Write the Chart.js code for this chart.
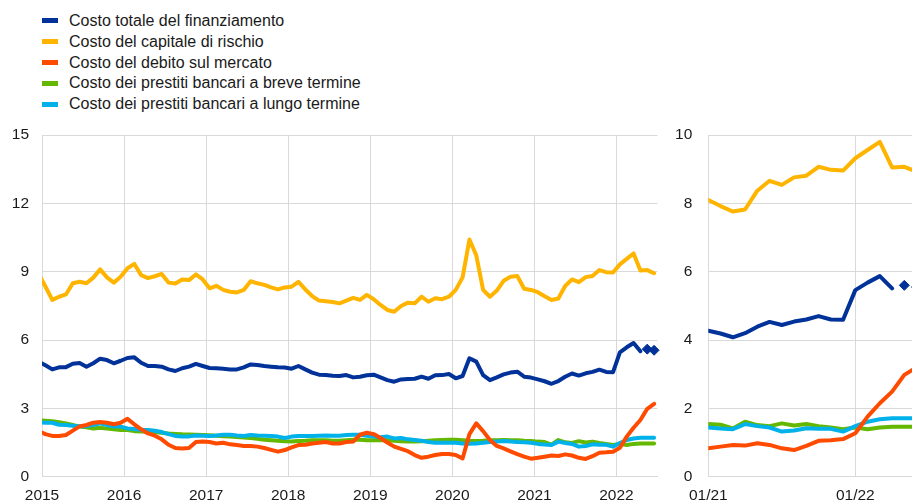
<!DOCTYPE html>
<html>
<head>
<meta charset="utf-8">
<script src="https://cdn.jsdelivr.net/npm/chart.js@4/dist/chart.umd.min.js"></script>
<style>
  body { margin: 0; width: 912px; height: 503px; overflow: hidden; background: #fff; position: relative;
         font-family: "Liberation Sans", Arial, sans-serif; }
  #legend { position: absolute; left: 42px; top: 10.6px; }
  .item { height: 20.8px; display: flex; align-items: center; font-size: 16px; color: #1a1a1a; white-space: nowrap; }
  .sw { width: 16px; height: 5px; margin-right: 11px; }
  canvas { position: absolute; top: 0; }
</style>
</head>
<body>
<div id="legend"></div>
<canvas id="leftChart" width="668" height="503" style="left:0"></canvas>
<canvas id="rightChart" width="275" height="503" style="left:660px"></canvas>
<script>
// ============================================================
// Dati mensili: da dic 2014 (indice 0) a giu 2022 (indice 90)
// ============================================================
const seriesNames = [
  'Costo totale del finanziamento',
  'Costo del capitale di rischio',
  'Costo del debito sul mercato',
  'Costo dei prestiti bancari a breve termine',
  'Costo dei prestiti bancari a lungo termine'
];
const seriesColors = ['#003299', '#ffb400', '#ff4b00', '#65b800', '#00b1ea'];

const costoTotale = [5.05,
  4.89,4.71,4.80,4.81,4.96,4.99,4.83,4.98,5.18,5.12,4.98,5.09,5.21,5.24,5.00,
  4.86,4.86,4.83,4.71,4.64,4.76,4.83,4.95,4.86,4.77,4.76,4.74,4.71,4.71,4.80,
  4.93,4.90,4.86,4.83,4.80,4.79,4.74,4.86,4.71,4.57,4.48,4.46,4.43,4.42,4.46,4.36,
  4.39,4.45,4.48,4.36,4.24,4.17,4.27,4.29,4.30,4.39,4.30,4.45,4.46,4.51,4.32,
  4.42,5.20,5.05,4.46,4.24,4.36,4.49,4.57,4.61,4.39,4.35,
  4.27,4.19,4.08,4.20,4.39,4.53,4.44,4.54,4.60,4.70,4.60,4.59,5.46,5.68,5.87,5.51,null,null];
// stime (rombi) per mag e giu 2022
const costoTotaleStima = costoTotale.map(() => null);
costoTotaleStima[89] = 5.60;
costoTotaleStima[90] = 5.55;

const capitaleRischio = [8.90,
  8.35,7.76,7.90,8.00,8.49,8.56,8.49,8.74,9.10,8.75,8.52,8.78,9.15,9.34,8.85,
  8.72,8.80,8.90,8.52,8.48,8.66,8.63,8.88,8.66,8.27,8.38,8.20,8.12,8.09,8.20,
  8.58,8.49,8.42,8.31,8.22,8.31,8.34,8.55,8.22,7.93,7.73,7.70,7.67,7.61,7.73,7.85,
  7.76,7.98,7.79,7.54,7.32,7.24,7.49,7.64,7.61,7.90,7.68,7.83,7.79,7.90,8.20,
  8.75,10.41,9.72,8.20,7.90,8.17,8.60,8.78,8.81,8.25,8.20,
  8.10,7.92,7.76,7.82,8.37,8.66,8.54,8.76,8.81,9.07,8.98,8.96,9.32,9.56,9.80,9.05,9.07,8.93];

const debitoMercato = [2.00,
  1.87,1.79,1.79,1.83,2.02,2.21,2.27,2.37,2.40,2.37,2.30,2.37,2.54,2.30,2.08,
  1.90,1.80,1.64,1.40,1.26,1.24,1.26,1.52,1.55,1.52,1.46,1.49,1.42,1.39,1.35,
  1.35,1.32,1.26,1.18,1.10,1.17,1.29,1.39,1.40,1.46,1.49,1.52,1.46,1.46,1.52,1.54,
  1.84,1.93,1.87,1.70,1.50,1.32,1.22,1.12,0.95,0.83,0.88,0.95,1.00,1.00,0.95,
  0.80,1.87,2.34,2.00,1.61,1.35,1.24,1.11,0.99,0.88,0.79,
  0.83,0.88,0.93,0.91,0.98,0.93,0.83,0.78,0.90,1.05,1.07,1.10,1.27,1.76,2.15,2.49,2.98,3.20];

const prestitiBreve = [2.47,
  2.46,2.43,2.39,2.34,2.27,2.20,2.17,2.12,2.15,2.11,2.08,2.05,2.05,2.00,1.98,
  1.97,1.95,1.93,1.90,1.88,1.86,1.85,1.84,1.83,1.82,1.80,1.78,1.76,1.74,1.72,
  1.70,1.66,1.62,1.60,1.58,1.56,1.55,1.57,1.58,1.60,1.60,1.60,1.58,1.58,1.60,1.62,
  1.62,1.60,1.60,1.61,1.60,1.58,1.56,1.55,1.55,1.56,1.58,1.60,1.61,1.62,1.62,
  1.60,1.58,1.57,1.58,1.60,1.60,1.61,1.60,1.60,1.58,1.57,
  1.54,1.52,1.41,1.61,1.51,1.48,1.56,1.50,1.54,1.48,1.44,1.39,1.44,1.39,1.44,1.46,1.46,1.46];

const prestitiLungo = [2.38,
  2.37,2.37,2.28,2.27,2.24,2.22,2.22,2.27,2.34,2.27,2.20,2.20,2.12,2.09,2.05,
  2.05,2.02,1.96,1.87,1.79,1.76,1.77,1.81,1.80,1.79,1.81,1.84,1.84,1.81,1.79,
  1.83,1.81,1.80,1.79,1.76,1.70,1.76,1.79,1.79,1.79,1.80,1.81,1.80,1.80,1.83,1.84,
  1.84,1.80,1.76,1.73,1.76,1.68,1.70,1.64,1.61,1.58,1.52,1.49,1.49,1.49,1.49,
  1.46,1.45,1.46,1.49,1.52,1.55,1.57,1.55,1.52,1.51,1.49,
  1.44,1.41,1.39,1.54,1.48,1.44,1.32,1.35,1.42,1.40,1.40,1.32,1.48,1.61,1.68,1.71,1.71,1.71];

const allSeries = [costoTotale, capitaleRischio, debitoMercato, prestitiBreve, prestitiLungo];
const drawOrder = [0, 0, 1, 3, 2]; // ciano sopra verde, arancio sopra entrambi

// Assi
const leftXTicks = [2015, 2016, 2017, 2018, 2019, 2020, 2021, 2022];
const leftYTicks = [0, 3, 6, 9, 12, 15];
const rightXTicks = [0, 12];
const rightXLabels = ['01/21', '01/22'];
const rightYTicks = [0, 2, 4, 6, 8, 10];
const rightStart = 73; // gen 2021

// ===== Legenda HTML =====
const lg = document.getElementById('legend');
seriesNames.forEach((n, i) => {
  lg.innerHTML += '<div class="item"><span class="sw" style="background:' + seriesColors[i] + '"></span>' + n + '</div>';
});

const GRID = '#d9d9d9';
const FONT = { family: '"Liberation Sans", Arial, sans-serif', size: 15.5 };

// Helper: dataset linea
function lineSet(data, i) {
  return { data, borderColor: seriesColors[i], backgroundColor: seriesColors[i], borderWidth: 4,
    pointRadius: 0, pointHoverRadius: 0, tension: 0, borderJoinStyle: 'round', borderCapStyle: 'round',
    spanGaps: false, order: drawOrder[i] };
}

function buildDatasets(xOf, from) {
  const ds = allSeries.map((s, i) => lineSet(s.slice(from).map((v, j) => ({ x: xOf(j + from), y: v })), i));
  ds.push({ data: costoTotaleStima.slice(from).map((v, j) => ({ x: xOf(j + from), y: v })),
    showLine: false, pointStyle: 'rectRot', pointRadius: 5, pointHoverRadius: 5, pointBorderWidth: 1,
    borderColor: seriesColors[0], backgroundColor: seriesColors[0], order: 0 });
  return ds;
}

function makeChart(id, datasets, o) {
  return new Chart(document.getElementById(id), {
    type: 'line',
    data: { datasets },
    options: {
      responsive: false, animation: false, devicePixelRatio: 1,
      layout: { padding: o.padding },
      plugins: { legend: { display: false }, tooltip: { enabled: false } },
      scales: {
        x: {
          type: 'linear', min: o.xMin, max: o.xMax,
          afterBuildTicks: s => { s.ticks = o.xTicks.map(v => ({ value: v })); },
          afterFit: s => { s.height = 26.3; },
          grid: { color: GRID, lineWidth: 1, drawTicks: false },
          border: { color: GRID },
          ticks: { font: FONT, color: '#1a1a1a', padding: 10, maxRotation: 0, autoSkip: false, callback: o.xLabel }
        },
        y: {
          min: 0, max: o.yMax,
          afterBuildTicks: s => { s.ticks = o.yTicks.map(v => ({ value: v })); },
          afterFit: s => { s.width = o.yWidth; },
          grid: { color: GRID, lineWidth: 1, drawTicks: false },
          border: { color: GRID },
          ticks: { font: FONT, color: '#1a1a1a', padding: o.yPad, callback: v => String(v) }
        }
      }
    }
  });
}

// ===== Pannello sinistro: 2015-2022 =====
const leftSets = buildDatasets(i => 2014 + (11.5 + i) / 12, 0);
leftSets.forEach(d => { d.clip = { left: 0, top: 4, right: 4, bottom: 4 }; });
makeChart('leftChart', leftSets, {
  padding: { left: 12, top: 135, right: 10.5, bottom: 0 },
  xMin: 2015, xMax: 2022.5, xTicks: leftXTicks, xLabel: v => String(v),
  yMax: 15, yTicks: leftYTicks, yWidth: 30, yPad: 13
});

// ===== Pannello destro: 01/21 - 06/22 =====
makeChart('rightChart', buildDatasets(i => i - rightStart, rightStart), {
  padding: { left: 15, top: 135, right: 12.3, bottom: 0 },
  xMin: 0, xMax: 17.5, xTicks: rightXTicks, xLabel: v => rightXLabels[rightXTicks.indexOf(v)],
  yMax: 10, yTicks: rightYTicks, yWidth: 33.3, yPad: 16
});
</script>
</body>
</html>
